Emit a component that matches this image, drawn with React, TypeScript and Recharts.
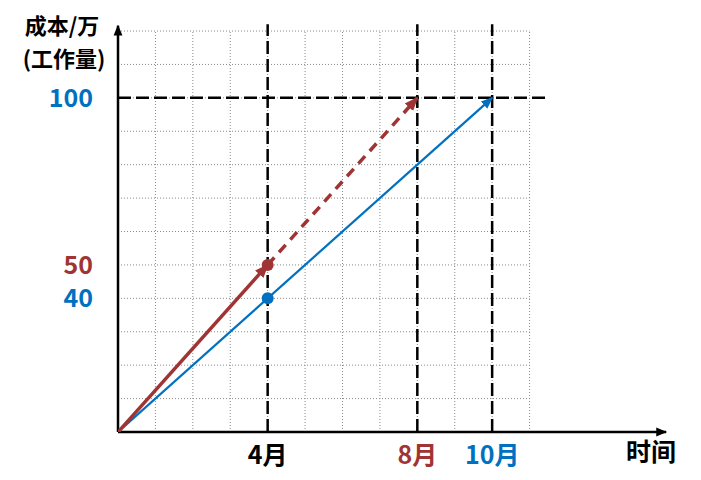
import {
  ComposedChart,
  Line,
  Scatter,
  XAxis,
  YAxis,
  ReferenceLine,
  Customized,
} from 'recharts';

const RED = '#A03434';
const BLUE = '#0070C0';
const FONT = '"Noto Sans CJK SC", "Noto Sans", sans-serif';

// months on the time axis
const monthTicks = [4, 8, 10];
const monthLabels = ['4月', '8月', '10月'];
const monthColors = ['#000', RED, BLUE];

// cost ticks on the vertical axis
const costTicks = [40, 50, 100];
const costColors = [BLUE, RED, BLUE];

// dotted grid
const gridMonths = [1, 2, 3, 4, 5, 6, 7, 8, 9, 10, 11];
const gridCosts = [10, 20, 30, 40, 50, 60, 70, 80, 90, 100, 110, 120];

// series
const redSolid = [
  { t: 0, v: 0 },
  { t: 4, v: 50 },
];
const redDashed = [
  { t: 4, v: 50 },
  { t: 8, v: 100 },
];
const blueLine = [
  { t: 0, v: 0 },
  { t: 10, v: 100 },
];
const redPoint = [{ t: 4, v: 50 }];
const bluePoint = [{ t: 4, v: 40 }];

function Defs() {
  const mk = (id: string, color: string, size: number) => (
    <marker
      id={id}
      viewBox="0 0 10 10"
      refX={9}
      refY={5}
      markerWidth={size}
      markerHeight={size}
      markerUnits="userSpaceOnUse"
      orient="auto"
    >
      <path d="M0,1 L10,5 L0,9 z" fill={color} />
    </marker>
  );
  return (
    <g>
      <defs>
        {mk('arrBlack', '#000', 11)}
        {mk('arrBlue', BLUE, 12)}
        {mk('arrRed', RED, 14)}
      </defs>
      <text x={62} y={34} textAnchor="middle" fontSize={22} fontWeight={700} fontFamily={FONT} fill="#000">
        成本/万
      </text>
      <text x={64} y={67} textAnchor="middle" fontSize={22} fontWeight={700} fontFamily={FONT} fill="#000">
        (工作量)
      </text>
      <text x={651} y={461} textAnchor="middle" fontSize={25} fontWeight={700} fontFamily={FONT} fill="#000">
        时间
      </text>
    </g>
  );
}

function CostTick(props: { x?: number; y?: number; payload?: { value: number } }) {
  const { x = 0, y = 0, payload } = props;
  const i = costTicks.indexOf(payload ? payload.value : -1);
  return (
    <text
      x={x - 17}
      y={y + 9}
      textAnchor="end"
      fontSize={25}
      fontWeight={700}
      fontFamily={FONT}
      fill={costColors[i] || '#000'}
    >
      {payload ? payload.value : ''}
    </text>
  );
}

function MonthTick(props: { x?: number; y?: number; payload?: { value: number } }) {
  const { x = 0, y = 0, payload } = props;
  const i = monthTicks.indexOf(payload ? payload.value : -1);
  return (
    <text
      x={x}
      y={y + 24}
      textAnchor="middle"
      fontSize={25}
      fontWeight={700}
      fontFamily={FONT}
      fill={monthColors[i] || '#000'}
    >
      {monthLabels[i]}
    </text>
  );
}

export default function App() {
  return (
    <div style={{ position: 'absolute', left: 0, top: 0, background: '#fff' }}>
      <ComposedChart width={701} height={480} margin={{ top: 21, right: 33, bottom: 0, left: 38 }}>
        <Customized component={Defs} />
        <XAxis
          type="number"
          dataKey="t"
          domain={[0, 14.7]}
          ticks={monthTicks}
          height={48}
          axisLine={false}
          tickLine={false}
          tick={<MonthTick />}
          allowDataOverflow
        />
        <YAxis
          type="number"
          dataKey="v"
          domain={[0, 123]}
          ticks={costTicks}
          width={80}
          axisLine={false}
          tickLine={false}
          tick={<CostTick />}
          allowDataOverflow
        />

        {gridMonths.map((m) => (
          <ReferenceLine
            key={'gx' + m}
            segment={[
              { x: m, y: 0 },
              { x: m, y: 120 },
            ]}
            stroke="#8a8a8a"
            strokeDasharray="1 2"
            strokeWidth={1}
          />
        ))}
        {gridCosts.map((c) => (
          <ReferenceLine
            key={'gy' + c}
            segment={[
              { x: 0, y: c },
              { x: 11, y: c },
            ]}
            stroke="#8a8a8a"
            strokeDasharray="1 2"
            strokeWidth={1}
          />
        ))}

        {monthTicks.map((m) => (
          <ReferenceLine
            key={'dx' + m}
            segment={[
              { x: m, y: 0 },
              { x: m, y: 122 },
            ]}
            stroke="#000"
            strokeDasharray="13 5"
            strokeWidth={2.5}
          />
        ))}
        <ReferenceLine
          segment={[
            { x: 0, y: 100 },
            { x: 11.5, y: 100 },
          ]}
          stroke="#000"
          strokeDasharray="13 5"
          strokeWidth={2.5}
        />

        <ReferenceLine
          segment={[
            { x: 0, y: 0 },
            { x: 14.65, y: 0 },
          ]}
          stroke="#000"
          strokeWidth={2.5}
          markerEnd="url(#arrBlack)"
        />
        <ReferenceLine
          segment={[
            { x: 0, y: 0 },
            { x: 0, y: 121.6 },
          ]}
          stroke="#000"
          strokeWidth={2.5}
          markerEnd="url(#arrBlack)"
        />

        <Line
          data={blueLine}
          dataKey="v"
          type="linear"
          stroke={BLUE}
          strokeWidth={2.2}
          dot={false}
          activeDot={false}
          markerEnd="url(#arrBlue)"
          isAnimationActive={false}
        />
        <Line
          data={redDashed}
          dataKey="v"
          type="linear"
          stroke={RED}
          strokeWidth={3.5}
          strokeDasharray="10 7"
          dot={false}
          activeDot={false}
          markerEnd="url(#arrRed)"
          isAnimationActive={false}
        />
        <Line
          data={redSolid}
          dataKey="v"
          type="linear"
          stroke={RED}
          strokeWidth={3.5}
          dot={false}
          activeDot={false}
          markerEnd="url(#arrRed)"
          isAnimationActive={false}
        />
        <Scatter
          data={redPoint}
          dataKey="v"
          fill={RED}
          shape={(p: { cx?: number; cy?: number }) => <circle cx={p.cx} cy={p.cy} r={6} fill={RED} />}
          isAnimationActive={false}
        />
        <Scatter
          data={bluePoint}
          dataKey="v"
          fill={BLUE}
          shape={(p: { cx?: number; cy?: number }) => <circle cx={p.cx} cy={p.cy} r={6} fill={BLUE} />}
          isAnimationActive={false}
        />
      </ComposedChart>
    </div>
  );
}
